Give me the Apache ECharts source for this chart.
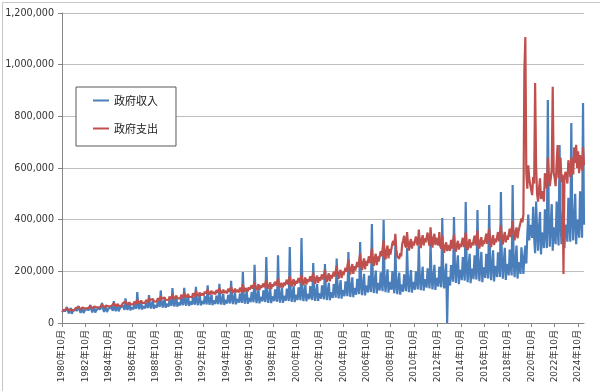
<!DOCTYPE html>
<html>
<head>
<meta charset="utf-8">
<script src="https://cdn.jsdelivr.net/npm/echarts@6/dist/echarts.min.js"></script>
<style>
html,body{margin:0;padding:0;background:#fff;}
#chart{width:600px;height:391px;}
</style>
</head>
<body>
<div id="chart"></div>
<script>
// Monthly values in thousands (axis labels show full units), from 1980-10 to 2025-04
const startYear = 1980, startMonth = 10;
const seriesNames = ['政府収入', '政府支出'];

const revenue = [
  42,38,52, // 1980 Oct-Dec
  44,39,62,47,37,49,58,36,45,43,40,55, // 1981
  46,40,66,50,39,52,60,38,47,45,41,57, // 1982
  48,42,70,52,41,54,63,40,49,47,43,60, // 1983
  51,44,78,55,43,57,66,42,52,50,46,63, // 1984
  55,47,85,59,46,61,71,45,56,54,49,68, // 1985
  60,51,95,64,50,66,77,49,61,58,53,74, // 1986
  63,55,120,68,53,70,82,52,65,62,57,79, // 1987
  67,58,108,73,56,75,87,55,69,66,60,84, // 1988
  72,62,126,78,60,80,93,59,74,71,64,90, // 1989
  77,66,135,83,64,86,99,63,79,76,68,96, // 1990
  81,69,136,87,67,90,104,66,83,80,71,101, // 1991
  83,71,140,89,69,92,107,68,85,82,73,104, // 1992
  85,72,146,91,70,94,110,69,87,84,74,106, // 1993
  87,73,152,93,71,96,113,70,89,86,76,109, // 1994
  90,76,163,97,73,100,118,72,93,89,79,114, // 1995
  94,78,197,101,75,104,124,74,97,92,81,120, // 1996
  98,80,225,106,77,108,130,76,101,96,84,126, // 1997
  100,81,255,108,78,111,135,77,103,98,85,130, // 1998
  102,82,262,110,79,113,138,78,105,100,86,133, // 1999
  106,85,294,114,82,117,143,81,109,104,89,138, // 2000
  110,88,329,118,85,121,148,84,113,108,92,143, // 2001
  112,89,232,120,86,123,151,85,115,110,94,146, // 2002
  116,92,228,124,89,128,156,88,119,114,97,151, // 2003
  124,98,250,132,95,136,166,94,127,121,104,161, // 2004
  132,104,275,140,101,145,177,100,135,129,110,171, // 2005
  141,112,313,150,108,155,190,107,145,139,118,184, // 2006
  151,120,383,161,116,166,203,114,155,148,126,196, // 2007
  155,123,399,165,119,170,208,117,159,152,129,201, // 2008
  145,115,300,155,112,160,195,110,149,143,121,188, // 2009
  155,123,290,165,119,170,205,117,159,152,129,200, // 2010
  165,130,300,175,127,180,218,125,169,162,137,212, // 2011
  170,134,310,180,130,185,225,128,174,166,141,218, // 2012
  175,138,406,185,134,190,230,0,178,171,145,224, // 2013
  200,160,410,212,155,218,262,150,205,196,166,255, // 2014
  205,164,468,217,158,223,268,154,210,201,170,262, // 2015
  210,168,437,222,162,228,275,158,215,206,174,268, // 2016
  215,172,457,227,166,234,281,161,220,211,178,274, // 2017
  223,178,507,235,172,242,291,167,228,218,184,284, // 2018
  230,184,534,242,177,249,300,172,235,225,190,293, // 2019
  245,190,260,300,230,340,420,320,380,360,330,450, // 2020
  330,270,470,360,280,370,430,265,350,335,290,440, // 2021
  360,290,863,380,295,390,460,280,370,355,305,470, // 2022
  370,300,689,390,305,400,475,290,380,365,315,485, // 2023
  390,315,774,410,320,420,500,305,400,385,330,510, // 2024
  410,330,852,380 // 2025 Jan-Apr
];

const expenditure = [
  48,52,55, // 1980 Oct-Dec
  50,47,58,54,49,53,56,51,55,53,50,58, // 1981
  54,51,62,57,52,55,60,53,58,56,53,61, // 1982
  58,55,66,61,56,59,64,57,62,60,57,65, // 1983
  62,58,71,65,60,63,68,61,66,64,61,70, // 1984
  67,63,77,71,65,69,74,66,72,70,66,76, // 1985
  73,69,84,77,71,75,80,72,78,76,72,83, // 1986
  79,74,90,83,76,81,87,78,84,82,78,89, // 1987
  85,80,97,89,82,87,93,84,90,88,83,96, // 1988
  91,86,104,95,88,93,99,90,96,94,89,102, // 1989
  97,91,110,101,93,99,106,95,102,100,95,109, // 1990
  103,97,117,107,99,105,112,101,108,106,100,115, // 1991
  108,102,124,113,104,111,118,106,114,112,106,122, // 1992
  114,108,130,119,110,117,125,112,120,118,111,128, // 1993
  118,112,135,123,114,121,129,116,124,122,115,133, // 1994
  122,115,139,127,117,125,133,119,128,126,119,137, // 1995
  128,118,150,133,121,135,142,122,138,130,126,146, // 1996
  133,128,158,136,127,140,150,128,145,136,133,153, // 1997
  138,134,166,141,133,148,157,132,150,141,139,160, // 1998
  145,140,172,147,137,155,162,138,157,146,145,168, // 1999
  149,147,180,152,142,161,169,144,164,152,150,174, // 2000
  155,152,186,158,147,167,176,149,170,158,156,181, // 2001
  160,158,194,165,152,174,183,155,177,164,162,188, // 2002
  168,165,205,172,159,182,192,161,186,172,170,198, // 2003
  180,178,222,186,171,196,206,174,200,185,183,214, // 2004
  198,194,245,204,188,215,228,190,220,203,200,236, // 2005
  216,212,268,222,205,236,250,208,240,222,219,258, // 2006
  232,228,288,240,221,254,268,224,258,238,236,278, // 2007
  258,255,320,266,246,283,300,250,287,265,262,310, // 2008
  318,300,345,285,258,262,248,270,258,305,320,338, // 2009
  300,292,352,305,280,312,325,288,315,300,295,335, // 2010
  310,300,362,318,290,325,340,300,328,312,305,350, // 2011
  315,298,370,320,292,330,345,302,330,315,300,352, // 2012
  296,288,338,292,272,300,312,278,302,288,280,322, // 2013
  288,282,342,296,276,305,318,284,306,294,288,330, // 2014
  294,288,350,302,282,312,325,290,312,300,294,338, // 2015
  300,294,358,308,288,318,332,296,320,306,300,346, // 2016
  306,300,365,314,294,325,340,302,326,312,306,352, // 2017
  316,310,378,325,304,336,352,312,338,322,316,365, // 2018
  332,325,395,342,320,352,370,328,355,362,348,405, // 2019
  390,420,975,1107,580,520,610,560,535,515,495,565, // 2020
  540,929,610,500,470,520,560,480,510,495,470,580, // 2021
  560,520,640,575,530,560,600,914,580,560,530,620, // 2022
  689,560,600,640,545,575,190,560,585,570,540,630, // 2023
  600,565,640,610,575,680,620,690,600,665,580,650, // 2024
  630,590,681,610 // 2025 Jan-Apr
];

const yTicks = {min: 0, max: 1200, interval: 200}; // thousands

// category labels: one per month
const categories = [];
for (let i = 0; i < revenue.length; i++) {
  const m0 = startMonth - 1 + i;
  const y = startYear + Math.floor(m0 / 12);
  const m = (m0 % 12) + 1;
  categories.push(y + '年' + m + '月');
}

const chart = echarts.init(document.getElementById('chart'), null, {renderer: 'canvas'});
chart.setOption({
  animation: false,
  backgroundColor: '#ffffff',
  graphic: [{
    type: 'rect', left: 0, top: 0, z: -1,
    shape: {x: 0.5, y: 0.5, width: 598, height: 389},
    style: {fill: 'none', stroke: '#c6c6c6', lineWidth: 1}
  }],
  grid: {left: 62, right: 16, top: 13, bottom: 68, containLabel: false},
  legend: {
    orient: 'vertical',
    left: 76, top: 87,
    data: seriesNames,
    icon: 'rect',
    itemWidth: 16, itemHeight: 2,
    itemGap: 17,
    padding: [8, 18, 12, 17],
    borderColor: '#595959', borderWidth: 1,
    backgroundColor: '#ffffff',
    textStyle: {fontSize: 11, color: '#222', fontFamily: '"Noto Sans CJK JP", sans-serif'}
  },
  xAxis: {
    type: 'category',
    data: categories,
    boundaryGap: false,
    axisLine: {lineStyle: {color: '#868686', width: 1}},
    axisTick: {show: true, interval: 23, length: 4, lineStyle: {color: '#868686'}},
    axisLabel: {
      interval: 23, rotate: 90, margin: 7, fontSize: 9, color: '#333',
      fontFamily: '"DejaVu Sans", "Noto Sans CJK JP", sans-serif'
    },
    splitLine: {show: false}
  },
  yAxis: {
    type: 'value',
    min: yTicks.min, max: yTicks.max, interval: yTicks.interval,
    axisLine: {show: true, lineStyle: {color: '#868686', width: 1}},
    axisTick: {show: true, length: 4, lineStyle: {color: '#868686'}},
    axisLabel: {
      margin: 8, fontSize: 9.6, color: '#333', fontFamily: '"DejaVu Sans", sans-serif',
      formatter: v => (v * 1000).toLocaleString('en-US')
    },
    splitLine: {lineStyle: {color: '#bdbdbd', width: 1}}
  },
  series: [
    {name: seriesNames[0], type: 'line', data: revenue, symbol: 'none',
     lineStyle: {color: '#4a7ebb', width: 2.2}, itemStyle: {color: '#4a7ebb'}},
    {name: seriesNames[1], type: 'line', data: expenditure, symbol: 'none',
     lineStyle: {color: '#c0504d', width: 2.2}, itemStyle: {color: '#c0504d'}}
  ]
});
</script>
</body>
</html>
